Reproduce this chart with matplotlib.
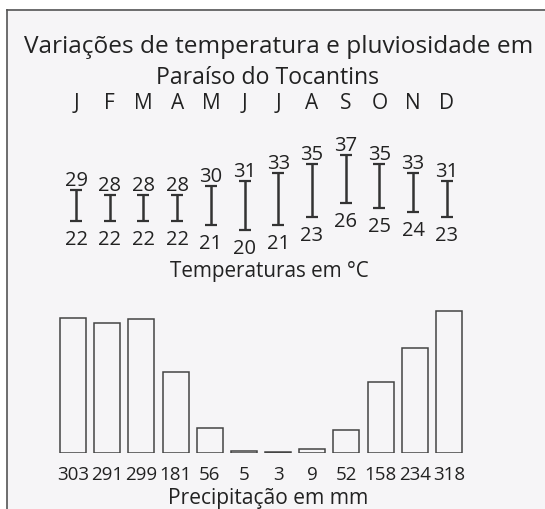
import numpy as np
import matplotlib
matplotlib.use("Agg")
import matplotlib.pyplot as plt
from matplotlib.lines import Line2D
from matplotlib.patches import Rectangle

plt.rcParams['font.family'] = ['Open Sans', 'DejaVu Sans']

months = ["J", "F", "M", "A", "M", "J", "J", "A", "S", "O", "N", "D"]
t_max = [29, 28, 28, 28, 30, 31, 33, 35, 37, 35, 33, 31]
t_min = [22, 22, 22, 22, 21, 20, 21, 23, 26, 25, 24, 23]
precip = [303, 291, 299, 181, 56, 5, 3, 9, 52, 158, 234, 318]

W, H = 545, 510
fig = plt.figure(figsize=(W / 100, H / 100), dpi=100, facecolor="white")

# light grey panel with top and left border
bg = "#f6f5f7"
fig.add_artist(Rectangle((7 / W, 0), 1, 1 - 10 / H, transform=fig.transFigure,
                         facecolor=bg, edgecolor="none", zorder=0))
fig.add_artist(Line2D([7 / W, 1], [1 - 10.5 / H, 1 - 10.5 / H], color="#555555", lw=1.2))
fig.add_artist(Line2D([7 / W, 7 / W], [0, 1 - 10.5 / H], color="#555555", lw=1.2))

def px_box(x0, x1, ytop, ybot):
    return [x0 / W, 1 - ybot / H, (x1 - x0) / W, (ybot - ytop) / H]

txt = "#222222"
x = np.arange(len(months))

# temperature ranges
ax1 = fig.add_axes(px_box(59.2, 463.6, 142.8, 239.6))
ax1.set_xlim(-0.5, 11.5)
ax1.set_ylim(18, 40)
ax1.axis("off")
lo = np.array(t_min)
hi = np.array(t_max)
ax1.errorbar(x, (hi + lo) / 2, yerr=(hi - lo) / 2, fmt="none", ecolor="#333333",
             elinewidth=1.8, capsize=4.5, capthick=1.6)
for i in x:
    ax1.annotate(str(t_max[i]), (i, t_max[i]), xytext=(0, 10), textcoords="offset pixels",
                 ha="center", va="center", fontsize=14.5, color=txt)
    ax1.annotate(str(t_min[i]), (i, t_min[i]), xytext=(0, -18), textcoords="offset pixels",
                 ha="center", va="center", fontsize=14.5, color=txt)
    ax1.text(i, 1.411, months[i], transform=ax1.get_xaxis_transform(),
             ha="center", va="center", fontsize=15, color=txt)

# precipitation bars
ax2 = fig.add_axes(px_box(55.9, 466.1, 306.5, 454))
ax2.set_xlim(-0.5, 11.5)
ax2.set_ylim(0, 330)
ax2.axis("off")
ax2.bar(x, precip, width=0.76, facecolor="none", edgecolor="#444444", linewidth=1.1)
for i in x:
    ax2.annotate(str(precip[i]), (i, 0), xytext=(0, -21), textcoords="offset pixels",
                 ha="center", va="center", fontsize=13.5, color=txt)

fig.text(279 / W, 1 - 47 / H, "Variações de temperatura e pluviosidade em",
         ha="center", va="center", fontsize=17.6, color=txt)
fig.text(268 / W, 1 - 78 / H, "Paraíso do Tocantins",
         ha="center", va="center", fontsize=16.6, color=txt)
fig.text(269 / W, 1 - 272 / H, "Temperaturas em °C",
         ha="center", va="center", fontsize=14.9, color=txt)
fig.text(268 / W, 1 - 499 / H, "Precipitação em mm",
         ha="center", va="center", fontsize=15.1, color=txt)

fig.savefig("out.png", dpi=100)
